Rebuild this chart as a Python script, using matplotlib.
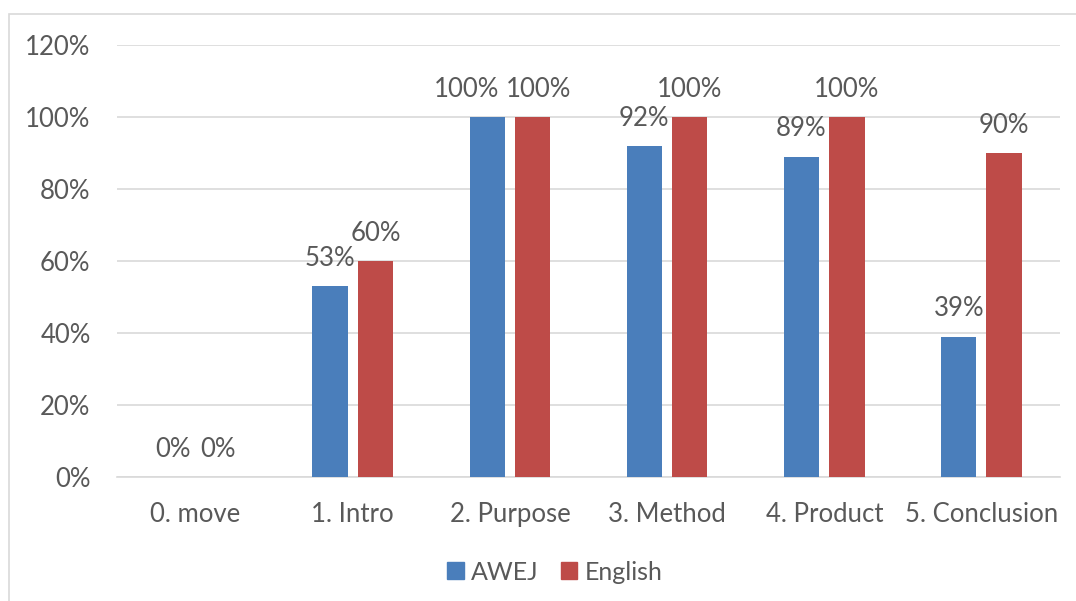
import numpy as np
import matplotlib.pyplot as plt
import matplotlib.patches as mpatches

categories = ["0. move", "1. Intro", "2. Purpose", "3. Method", "4. Product", "5. Conclusion"]
awej = [0, 53, 100, 92, 89, 39]
english = [0, 60, 100, 100, 100, 90]
series_names = ["AWEJ", "English"]

blue = "#4A7EBB"
red = "#BE4B48"
text_gray = "#595959"

plt.rcParams['font.family'] = ['Lato', 'DejaVu Sans']

fig = plt.figure(figsize=(10.76, 6.01), dpi=100)
W, H = 1076, 601
ax = fig.add_axes([117 / W, 1 - 477 / H, (1060 - 117) / W, (477 - 45) / H])

# outer chart frame
frame = mpatches.Rectangle((9 / W, -0.1), 1.2, 1 - 14 / H + 0.1, transform=fig.transFigure,
                           fill=False, edgecolor="#d9d9d9", linewidth=1.2)
fig.patches.append(frame)

x = np.arange(len(categories))
width = 0.225
gap = 0.064
off = (width + gap) / 2

b1 = ax.bar(x - off, awej, width, color=blue, label=series_names[0], zorder=3)
b2 = ax.bar(x + off, english, width, color=red, label=series_names[1], zorder=3)

# the two 100% labels on Purpose are pushed apart so they don't collide
nudge = {(0, 2): -15, (1, 2): 4}
for si, (bars, vals) in enumerate([(b1, awej), (b2, english)]):
    for ci, (rect, v) in enumerate(zip(bars, vals)):
        dx = nudge.get((si, ci), 0)
        ax.annotate(f"{v}%", (rect.get_x() + rect.get_width() / 2, v),
                    xytext=(dx, 20), textcoords="offset points",
                    ha="center", va="center", fontsize=18.5, color=text_gray)

ax.set_xlim(-0.5, len(categories) - 0.5)
ax.set_ylim(0, 120)
ax.set_yticks(np.arange(0, 121, 20))
ax.set_yticklabels([f"{t}%" for t in range(0, 121, 20)])
ax.set_xticks(x)
ax.set_xticklabels(categories)
ax.tick_params(axis="both", length=0, labelsize=18.5, labelcolor=text_gray)
ax.tick_params(axis="y", pad=19)
ax.tick_params(axis="x", pad=18)
ax.yaxis.grid(True, color="#d9d9d9", linewidth=1.2, zorder=0)
for s in ["top", "right", "left"]:
    ax.spines[s].set_visible(False)
ax.spines["bottom"].set_color("#d9d9d9")
ax.spines["bottom"].set_linewidth(1.2)

leg = fig.legend(handles=[mpatches.Patch(color=blue, label=series_names[0]),
                          mpatches.Patch(color=red, label=series_names[1])],
                 loc="center", bbox_to_anchor=(555 / W, 1 - 572 / H), ncol=2, frameon=False,
                 fontsize=18, handlelength=0.65, handleheight=0.65, handletextpad=0.3,
                 columnspacing=0.9)
for t in leg.get_texts():
    t.set_color(text_gray)

fig.savefig("out.png", dpi=100)
